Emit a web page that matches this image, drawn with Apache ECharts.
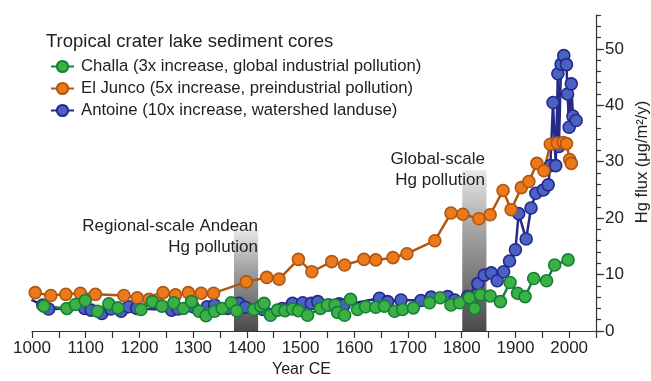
<!DOCTYPE html>
<html>
<head>
<meta charset="utf-8">
<script src="https://cdn.jsdelivr.net/npm/echarts@6/dist/echarts.min.js"></script>
<style>
html,body{margin:0;padding:0;background:#fff;}
#chart{width:651px;height:381px;}
</style>
</head>
<body>
<div id="chart"></div>
<script>
// ---- data ----
const challaYears = [1022,1065,1081,1099,1122,1143,1160,1203,1224,1242,1264,1282,1297,1311,1324,1340,1354,1371,1381,1413,1426,1432,1444,1457,1471,1485,1496,1513,1537,1550,1564,1569,1582,1593,1606,1621,1640,1656,1675,1690,1710,1740,1760,1780,1796,1814,1824,1835,1853,1872,1890,1904,1918,1934,1958,1973,1998];
const challaFlux  = [4.4,4.0,4.7,5.4,3.5,4.8,4.1,3.8,5.2,4.4,5.0,4.0,5.2,3.5,2.7,3.5,4.0,5.0,3.6,3.8,4.4,4.9,2.8,3.7,3.6,3.9,3.6,2.8,4.0,4.6,4.6,3.3,2.8,5.6,3.8,4.3,4.2,4.4,3.5,3.8,4.1,5.0,5.9,4.6,5.0,5.9,4.0,6.4,6.2,5.2,8.6,6.7,6.1,9.3,8.9,11.7,12.6];

const elJuncoYears = [1006,1035,1063,1090,1118,1171,1196,1218,1232,1244,1267,1291,1315,1338,1399,1437,1460,1496,1521,1558,1582,1618,1640,1672,1698,1750,1780,1802,1832,1853,1877,1892,1911,1925,1940,1953,1965,1978,1989,1995,2001,2004];
const elJuncoFlux  = [6.8,6.3,6.5,6.7,6.5,6.3,5.9,5.6,5.5,6.8,6.4,6.8,6.7,6.7,8.7,9.5,9.2,12.7,10.5,12.3,11.7,12.7,12.6,13.0,13.7,16.0,20.9,20.7,19.9,20.6,24.9,21.5,25.4,26.5,29.7,28.4,33.1,33.3,33.4,33.2,30.4,29.7];

const antoineYears = [999,1020,1031,1098,1110,1130,1147,1166,1180,1195,1260,1272,1300,1326,1340,1364,1385,1397,1430,1466,1485,1504,1520,1532,1553,1572,1581,1647,1662,1687,1724,1743,1774,1787,1811,1830,1842,1855,1866,1878,1889,1900,1906,1920,1929,1938,1952,1961,1965,1970,1975,1979,1981,1985,1990,1995,1997,2000,2004,2007,2013];
const antoineFlux  = [5.5,4.6,3.9,4.0,3.7,3.1,3.9,3.5,4.3,4.0,3.7,3.9,4.3,4.3,4.6,4.0,4.9,4.2,3.8,4.0,4.9,5.0,4.9,5.2,4.6,4.8,4.6,5.8,5.2,5.5,5.4,6.0,6.1,5.5,6.1,8.4,9.9,10.3,8.9,10.5,12.4,14.4,20.8,16.3,21.8,24.4,25.0,25.9,29.3,40.5,29.3,45.6,32.7,47.3,48.8,47.2,42.0,36.1,43.8,38.1,37.3];

// shaded pollution periods: [startYear, endYear, topFlux]
const regionalBand = [1376, 1421, 18];
const globalBand   = [1801, 1846, 28.5];

const seriesNames = [
  'Challa (3x increase, global industrial pollution)',
  'El Junco (5x increase, preindustrial pollution)',
  'Antoine (10x increase, watershed landuse)'
];
const xTicks = {min:1000, max:2050, step:50, labelStep:100};
const yTicks = {min:0, max:56, major:10, minor:2};

// ---- chart ----
const pairs = (xs, ys) => xs.map((x, i) => [x, ys[i]]);
const FONT = '"Liberation Sans", Arial, Helvetica, sans-serif';
const AX = '#333';

function bandGradient() {
  return new echarts.graphic.LinearGradient(0, 0, 0, 1, [
    {offset: 0, color: '#e8e8e8'},
    {offset: 0.35, color: '#a8a8a8'},
    {offset: 1, color: '#4a4a4a'}
  ]);
}

function lineSeries(name, data, lineColor, fill, border) {
  return {
    name: name, type: 'line', data: data,
    xAxisIndex: 0, yAxisIndex: 0,
    symbol: 'circle', symbolSize: 12,
    lineStyle: {color: lineColor, width: 2.5},
    itemStyle: {color: fill, borderColor: border, borderWidth: 1.6},
    emphasis: {disabled: true},
    animation: false
  };
}

const chart = echarts.init(document.getElementById('chart'), null, {renderer: 'canvas'});
chart.setOption({
  animation: false,
  backgroundColor: '#fff',
  textStyle: {fontFamily: FONT},
  title: {
    text: 'Tropical crater lake sediment cores',
    left: 41, top: 27,
    textStyle: {fontFamily: FONT, fontSize: 18.5, fontWeight: 'normal', color: '#222'}
  },
  legend: {
    data: seriesNames,
    orient: 'vertical',
    left: 45, top: 53,
    itemWidth: 23, itemHeight: 14, itemGap: 5,
    selectedMode: false,
    textStyle: {fontFamily: FONT, fontSize: 16.7, lineHeight: 14, color: '#222', padding: [0, 0, 0, 2]}
  },
  grid: {left: 32, right: 55, top: 15, bottom: 50, containLabel: false},
  xAxis: [{
    type: 'value', min: xTicks.min, max: xTicks.max, interval: xTicks.step,
    axisLine: {show: true, onZero: false, lineStyle: {color: AX, width: 1.2}},
    axisTick: {show: true, length: 7, lineStyle: {color: AX, width: 1.2}},
    axisLabel: {
      show: true, margin: 9, fontFamily: FONT, fontSize: 17, color: '#222',
      formatter: v => (v % xTicks.labelStep === 0 && v < xTicks.max) ? String(v) : ''
    },
    splitLine: {show: false}
  }],
  yAxis: [{
    type: 'value', position: 'right', min: yTicks.min, max: yTicks.max, interval: yTicks.major,
    axisLine: {show: true, onZero: false, lineStyle: {color: AX, width: 1.2}},
    axisTick: {show: true, length: 8, lineStyle: {color: AX, width: 1.2}},
    axisLabel: {show: true, margin: 9, fontFamily: FONT, fontSize: 17, color: '#222', showMaxLabel: false},
    splitLine: {show: false}
  }, {
    type: 'value', position: 'right', min: yTicks.min, max: yTicks.max, interval: yTicks.minor,
    axisLine: {show: false},
    axisTick: {show: true, length: 5, lineStyle: {color: AX, width: 1.2}},
    axisLabel: {show: false},
    splitLine: {show: false}
  }],
  series: [
    {
      type: 'line', data: [], silent: true,
      markArea: {
        silent: true,
        label: {show: false},
        itemStyle: {color: bandGradient()},
        data: [
          [{xAxis: regionalBand[0], yAxis: 0}, {xAxis: regionalBand[1], yAxis: regionalBand[2]}],
          [{xAxis: globalBand[0], yAxis: 0}, {xAxis: globalBand[1], yAxis: globalBand[2]}]
        ]
      }
    },
    lineSeries(seriesNames[2], pairs(antoineYears, antoineFlux), '#27298a', '#4a62c4', '#25288a'),
    lineSeries(seriesNames[1], pairs(elJuncoYears, elJuncoFlux), '#b0560f', '#ec7a1c', '#b0560f'),
    lineSeries(seriesNames[0], pairs(challaYears, challaFlux), '#13823a', '#3cb043', '#13803a')
  ],
  graphic: [
    {type: 'text', z: 100, right: 651 - 258, top: 216,
     style: {text: 'Regional-scale Andean\nHg pollution', font: '17px ' + FONT, fill: '#222', textAlign: 'right', lineHeight: 21}},
    {type: 'text', z: 100, right: 651 - 485, top: 148.5,
     style: {text: 'Global-scale\nHg pollution', font: '17px ' + FONT, fill: '#222', textAlign: 'right', lineHeight: 21}},
    {type: 'text', z: 100, left: 272, top: 362,
     style: {text: 'Year CE', font: '16px ' + FONT, fill: '#222'}},
    {type: 'text', z: 100, x: 634, y: 162, rotation: Math.PI / 2,
     style: {text: 'Hg flux (μg/m²/y)', font: '16.5px ' + FONT, fill: '#222', textAlign: 'center', textVerticalAlign: 'top'}}
  ]
});
</script>
</body>
</html>
